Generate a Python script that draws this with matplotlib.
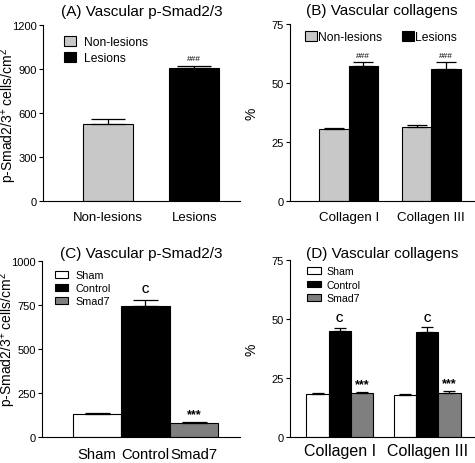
import numpy as np
import matplotlib.pyplot as plt

plt.rcParams['font.family'] = ['Liberation Sans', 'DejaVu Sans']
plt.rcParams['mathtext.fontset'] = 'custom'
plt.rcParams['mathtext.rm'] = 'Liberation Sans'
plt.rcParams['mathtext.it'] = 'Liberation Sans:italic'
plt.rcParams['mathtext.bf'] = 'Liberation Sans:bold'

# (A) vascular p-Smad2/3, lesion vs non-lesion
a_labels = ['Non-lesions', 'Lesions']
a_vals = [525, 905]
a_err = [35, 15]

# (B) vascular collagens, lesion vs non-lesion
b_groups = ['Collagen I', 'Collagen III']
b_nonles = [30.3, 31.5]
b_nonles_err = [0.8, 0.6]
b_les = [57.0, 56.0]
b_les_err = [1.8, 2.8]

# (C) vascular p-Smad2/3, treatment groups
c_labels = ['Sham', 'Control', 'Smad7']
c_vals = [130, 745, 78]
c_err = [8, 35, 10]

# (D) vascular collagens, treatment groups
d_groups = ['Collagen I', 'Collagen III']
d_sham = [18.2, 18.0]
d_sham_err = [0.5, 0.3]
d_ctrl = [45.0, 44.5]
d_ctrl_err = [1.3, 2.0]
d_smad7 = [18.6, 18.5]
d_smad7_err = [0.6, 0.8]

LIGHT = '#c8c8c8'
MID = '#7f7f7f'
ylab = r'p-Smad2/3$^{\mathrm{+}}$ cells/cm$^{\mathrm{2}}$'


def style(ax, xsize, xpad):
    ax.spines['top'].set_visible(False)
    ax.spines['right'].set_visible(False)
    ax.tick_params(axis='x', length=0, labelsize=xsize, pad=xpad)
    ax.tick_params(axis='y', length=3, labelsize=8, pad=1.5)


def errs(ax, x, h, err, capsize):
    ax.errorbar(x, h, yerr=[np.zeros(len(h)), err], fmt='none',
                ecolor='black', elinewidth=0.9, capsize=capsize, capthick=0.9)


fig = plt.figure(figsize=(4.75, 4.64), dpi=100)

# ---- A
ax = fig.add_axes([0.0905, 0.5647, 0.4145, 0.3793])
x = np.arange(len(a_labels))
w = 0.58
ax.bar(x[0], a_vals[0], w, color=LIGHT, edgecolor='black', linewidth=0.8, label='Non-lesions')
ax.bar(x[1], a_vals[1], w, color='black', edgecolor='black', linewidth=0.8, label='Lesions')
errs(ax, x, a_vals, a_err, 12)
ax.text(x[1], a_vals[1] + a_err[1] + 30, '###', ha='center', va='bottom', fontsize=6)
ax.set_xlim(-0.751, 1.526)
ax.set_ylim(0, 1200)
ax.set_yticks([0, 300, 600, 900, 1200])
ax.set_xticks(x, a_labels)
ax.set_ylabel(ylab, fontsize=10)
ax.yaxis.set_label_coords(-0.12, 0.49)
ax.set_title('(A) Vascular p-Smad2/3', fontsize=11, pad=7)
ax.legend(loc='upper left', bbox_to_anchor=(0.107, 0.9375), frameon=False, fontsize=8.7,
          borderpad=0, borderaxespad=0, handlelength=1.0, handleheight=0.85,
          handletextpad=0.65, labelspacing=0.35)
style(ax, 9.5, 7)

# ---- B
ax = fig.add_axes([0.6105, 0.5647, 0.3875, 0.3815])
x = np.arange(len(b_groups))
w = 0.355
ax.bar(x - w / 2, b_nonles, w, color=LIGHT, edgecolor='black', linewidth=0.8, label='Non-lesions')
ax.bar(x + w / 2, b_les, w, color='black', edgecolor='black', linewidth=0.8, label='Lesions')
errs(ax, x - w / 2, b_nonles, b_nonles_err, 7)
errs(ax, x + w / 2, b_les, b_les_err, 7)
for xi, v, e in zip(x + w / 2, b_les, b_les_err):
    ax.text(xi, v + e + 1.5, '###', ha='center', va='bottom', fontsize=6)
ax.set_xlim(-0.711, 1.518)
ax.set_ylim(0, 75)
ax.set_yticks([0, 25, 50, 75])
ax.set_xticks(x, b_groups)
ax.set_ylabel('%', fontsize=10, labelpad=9)
ax.set_title('(B) Vascular collagens', fontsize=11, pad=7)
ax.legend(loc='upper left', bbox_to_anchor=(0.081, 0.96), ncol=2, frameon=False, fontsize=8.7,
          borderpad=0, borderaxespad=0, handlelength=1.0, handleheight=0.85,
          handletextpad=0.1, columnspacing=1.6)
style(ax, 9.6, 7)

# ---- C
ax = fig.add_axes([0.0884, 0.056, 0.4166, 0.3793])
x = np.arange(len(c_labels))
colors = ['white', 'black', MID]
for xi, v, c, lab in zip(x, c_vals, colors, c_labels):
    ax.bar(xi, v, 1.0, color=c, edgecolor='black', linewidth=0.8, label=lab)
errs(ax, x, c_vals, c_err, 9)
ax.text(x[1], c_vals[1] + c_err[1] + 30, 'C', ha='center', va='bottom', fontsize=7.5, fontweight='bold')
ax.text(x[2], c_vals[2] + c_err[2] + 8, '***', ha='center', va='bottom', fontsize=9, fontweight='bold')
ax.set_xlim(-1.134, 2.948)
ax.set_ylim(0, 1000)
ax.set_yticks([0, 250, 500, 750, 1000])
ax.set_xticks(x, c_labels)
ax.set_ylabel(ylab, fontsize=10)
ax.yaxis.set_label_coords(-0.122, 0.56)
ax.set_title('(C) Vascular p-Smad2/3', fontsize=11, pad=3)
ax.legend(loc='upper left', bbox_to_anchor=(0.066, 0.949), frameon=False, fontsize=7.8,
          borderpad=0, borderaxespad=0, handlelength=1.2, handleheight=0.65,
          handletextpad=0.65, labelspacing=0.3)
style(ax, 10.7, 7)

# ---- D
ax = fig.add_axes([0.6105, 0.056, 0.3875, 0.3815])
x = np.arange(len(d_groups))
w = 0.253
series = [(d_sham, d_sham_err, 'white', 'Sham'),
          (d_ctrl, d_ctrl_err, 'black', 'Control'),
          (d_smad7, d_smad7_err, MID, 'Smad7')]
for k, (vals, e, c, lab) in enumerate(series):
    xs = x + (k - 1) * w
    ax.bar(xs, vals, w, color=c, edgecolor='black', linewidth=0.8, label=lab)
    errs(ax, xs, vals, e, 4)
for xi, v, e in zip(x, d_ctrl, d_ctrl_err):
    ax.text(xi, v + e + 2.0, 'C', ha='center', va='bottom', fontsize=7.5, fontweight='bold')
for xi, v, e in zip(x + w, d_smad7, d_smad7_err):
    ax.text(xi, v + e + 0.8, '***', ha='center', va='bottom', fontsize=9, fontweight='bold')
ax.set_xlim(-0.568, 1.534)
ax.set_ylim(0, 75)
ax.set_yticks([0, 25, 50, 75])
ax.set_xticks(x, d_groups)
ax.set_ylabel('%', fontsize=10, labelpad=9)
ax.set_title('(D) Vascular collagens', fontsize=11, pad=0)
ax.legend(loc='upper left', bbox_to_anchor=(0.092, 0.966), frameon=False, fontsize=7.6,
          borderpad=0, borderaxespad=0, handlelength=1.3, handleheight=0.6,
          handletextpad=0.55, labelspacing=0.35)
style(ax, 11.5, 4)

fig.savefig('out.png', dpi=100)
